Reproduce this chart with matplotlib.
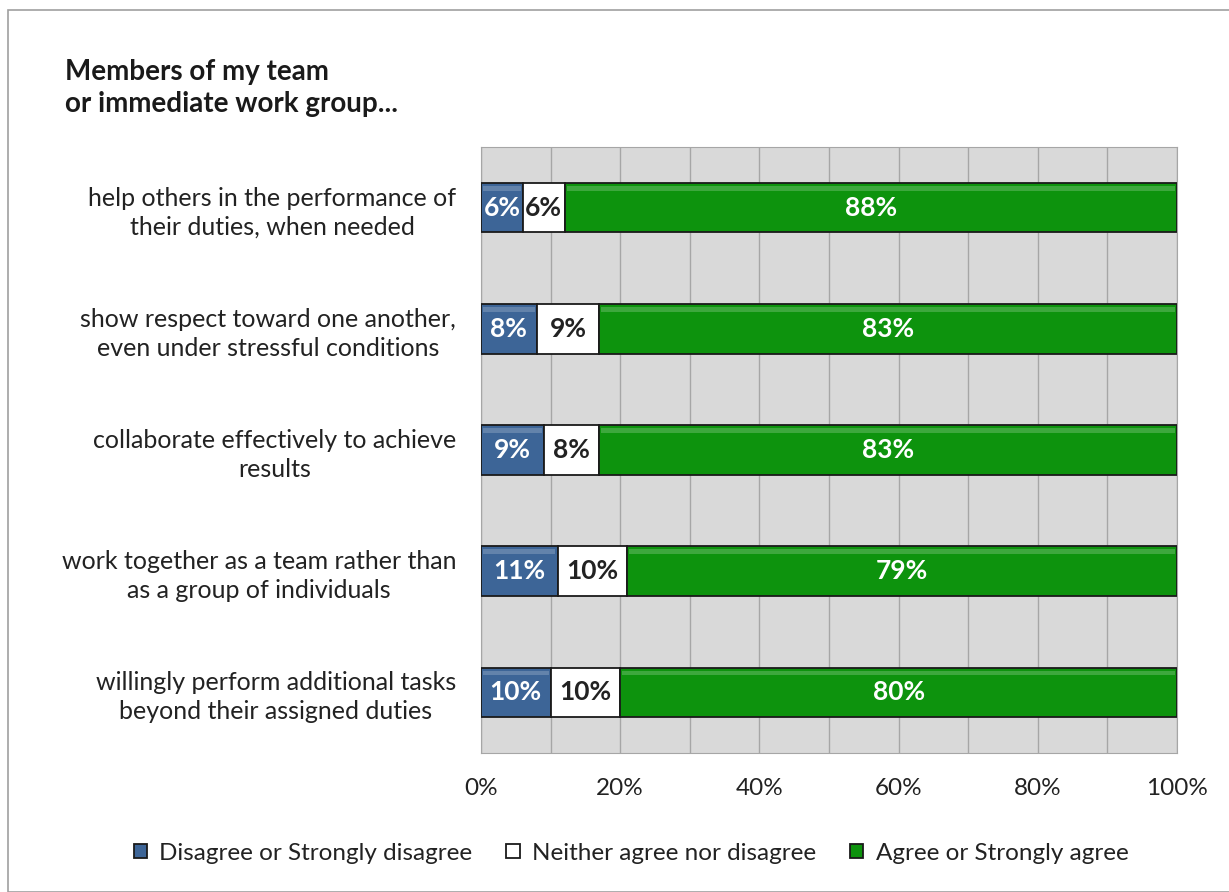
import numpy as np
import matplotlib.pyplot as plt
from matplotlib.patches import Rectangle

plt.rcParams['font.family'] = ['Lato', 'DejaVu Sans']

statements = [
    "help others in the performance of\ntheir duties, when needed",
    "show respect toward one another,\neven under stressful conditions",
    "collaborate effectively to achieve\nresults",
    "work together as a team rather than\nas a group of individuals",
    "willingly perform additional tasks\nbeyond their assigned duties",
]
disagree = [6, 8, 9, 11, 10]
neutral = [6, 9, 8, 10, 10]
agree = [88, 83, 83, 79, 80]

series_names = ["Disagree or Strongly disagree", "Neither agree nor disagree", "Agree or Strongly agree"]
colors = ["#3d6597", "#ffffff", "#0d930d"]
text_colors = ["white", "#222222", "white"]

fig = plt.figure(figsize=(12.29, 8.92), dpi=100)
ax = fig.add_axes([481 / 1229, 1 - 753 / 892, 696 / 1229, 606 / 892])
ax.set_facecolor("#d9d9d9")

# outer chart border
fig.patches.append(Rectangle((8 / 1229, 0), 1.2, 882 / 892, transform=fig.transFigure,
                             fill=False, edgecolor="#a0a0a0", linewidth=1.2))

y = np.arange(len(statements))
left = np.zeros(len(statements))
for vals, col, tcol, name in zip([disagree, neutral, agree], colors, text_colors, series_names):
    vals = np.array(vals, dtype=float)
    ax.barh(y, vals, left=left, height=0.41, color=col, edgecolor="#1a1a1a",
            linewidth=1.3, label=name, zorder=3)
    # thin highlight along the top of each segment
    ax.barh(y - 0.16, vals - 0.6, left=left + 0.3, height=0.04, color="white", alpha=0.2,
            linewidth=0, zorder=4)
    for yi, l, v in zip(y, left, vals):
        ax.text(l + v / 2, yi, f"{int(v)}%", ha="center", va="center", color=tcol,
                fontsize=19, fontweight="bold", zorder=5)
    left += vals

ax.set_xlim(0, 100)
ax.set_ylim(len(statements) - 0.5, -0.5)
ax.set_xticks(np.arange(0, 101, 20))
ax.set_xticks(np.arange(0, 101, 10), minor=True)
ax.set_xticklabels([f"{v}%" for v in range(0, 101, 20)], fontsize=17.5, color="#222222")
ax.grid(axis="x", which="both", color="#a6a6a6", linewidth=1, zorder=1)
ax.tick_params(axis="x", which="both", length=0, pad=18)
ax.set_yticks(y)
ax.set_yticklabels(statements, fontsize=18, color="#222222", ha="right",
                   multialignment="center", linespacing=1.3)
ax.tick_params(axis="y", length=0, pad=18)
for s in ["top", "right", "bottom", "left"]:
    ax.spines[s].set_color("#a6a6a6")

fig.text(65 / 1229, 1 - 88 / 892, "Members of my team\nor immediate work group...",
         fontsize=20, fontweight="bold", color="#1a1a1a", va="center", ha="left",
         linespacing=1.25)

leg = fig.legend(loc="center", bbox_to_anchor=(631 / 1229, 1 - 853 / 892), ncol=3,
                 frameon=False, fontsize=17.5, handlelength=0.55, handleheight=0.55,
                 handletextpad=0.5, columnspacing=1.4)
for t in leg.get_texts():
    t.set_color("#222222")

fig.savefig("out.png", dpi=100, facecolor="white")
